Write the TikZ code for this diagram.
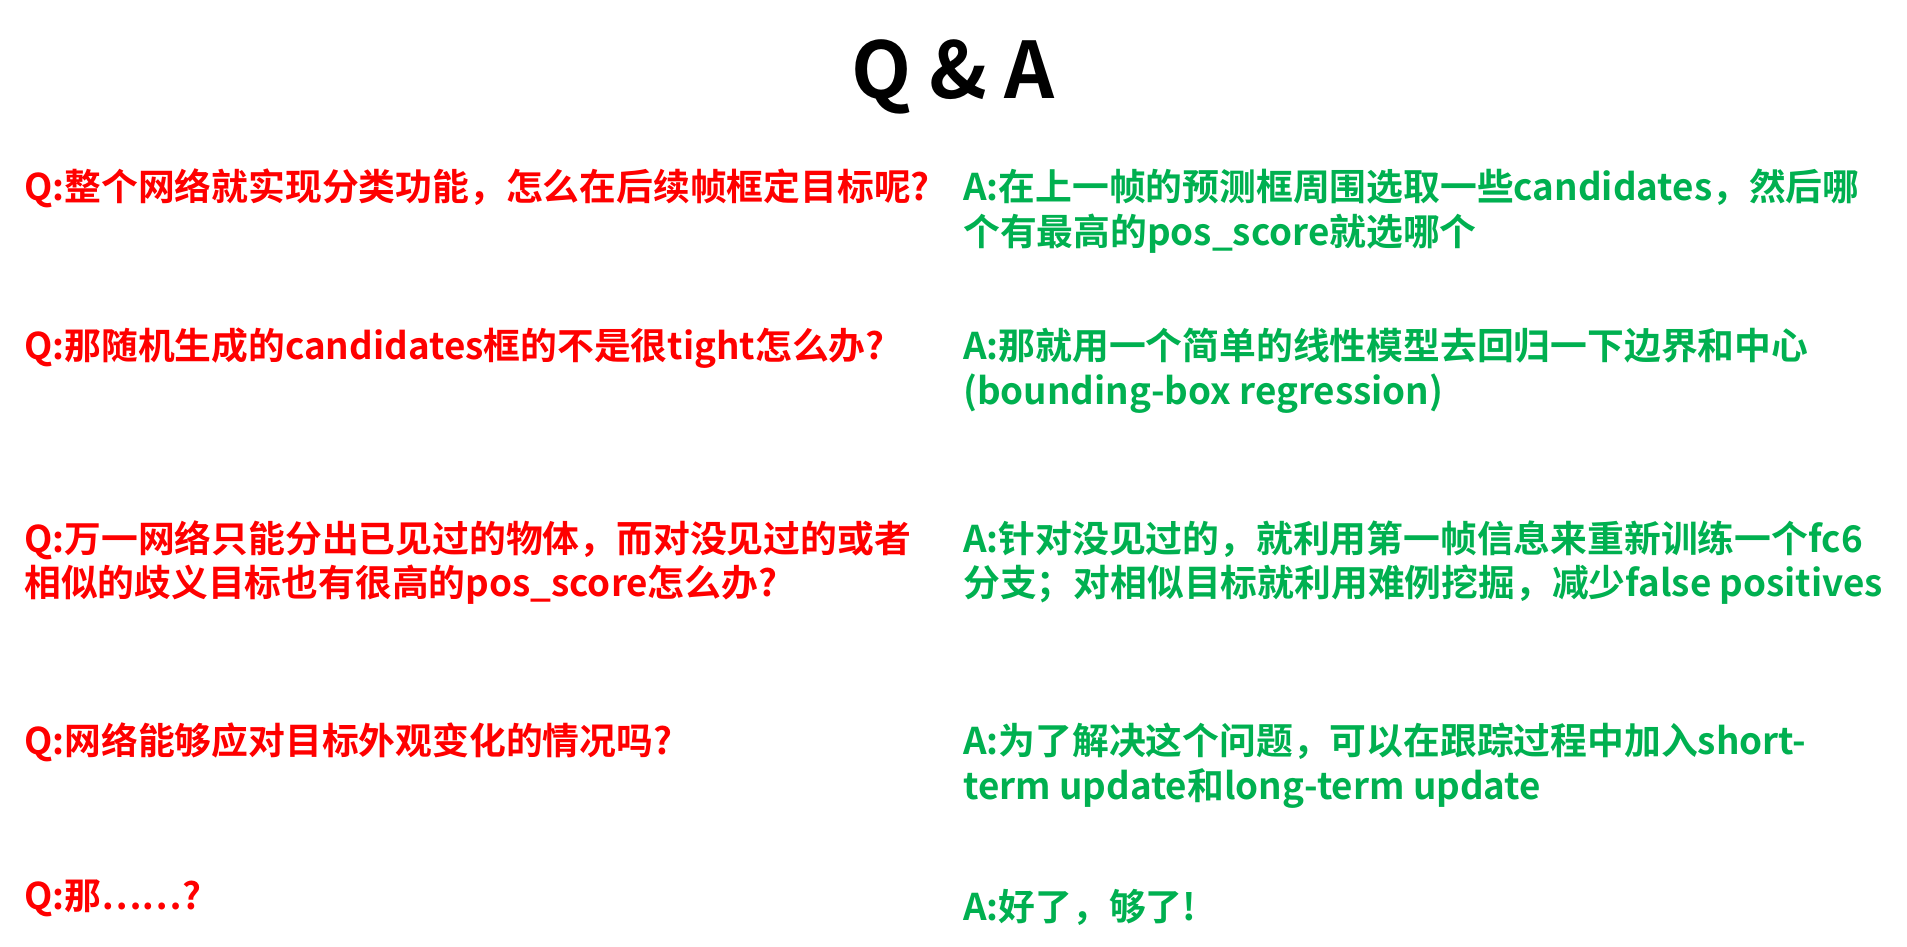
\documentclass[tikz,border=0pt]{standalone}
\usepackage{fontspec}
\setmainfont{Noto Sans CJK SC}[BoldFont={* Bold}]
\definecolor{qred}{HTML}{FF0000}
\definecolor{agreen}{HTML}{00B050}
\begin{document}
\begin{tikzpicture}[x=1pt,y=-1pt,
  qtext/.style={anchor=base west,inner sep=0,text=qred,font=\fontsize{36.8}{42}\selectfont\bfseries},
  atext/.style={anchor=base west,inner sep=0,text=agreen,font=\fontsize{36.8}{42}\selectfont\bfseries}]
\useasboundingbox (0,0) rectangle (1907,946);
\node[anchor=base,inner sep=0,font=\fontsize{78}{90}\selectfont\bfseries] (title) at (953,98) {Q \& A};
\node[qtext] (q1) at (24,200) {Q:整个网络就实现分类功能，怎么在后续帧框定目标呢?};
\node[qtext] (q2) at (24,359) {Q:那随机生成的candidates框的不是很tight怎么办?};
\node[qtext] (q3a) at (24,552) {Q:万一网络只能分出已见过的物体，而对没见过的或者};
\node[qtext] (q3b) at (24,596) {相似的歧义目标也有很高的pos\_score怎么办?};
\node[qtext] (q4) at (24,754) {Q:网络能够应对目标外观变化的情况吗?};
\node[qtext] (q5) at (24,909) {Q:那……?};
\node[atext] (a1a) at (963,200) {A:在上一帧的预测框周围选取一些candidates，然后哪};
\node[atext] (a1b) at (963,245) {个有最高的pos\_score就选哪个};
\node[atext] (a2a) at (963,359) {A:那就用一个简单的线性模型去回归一下边界和中心};
\node[atext] (a2b) at (963,404) {(bounding-box regression)};
\node[atext] (a3a) at (963,552) {A:针对没见过的，就利用第一帧信息来重新训练一个fc6};
\node[atext] (a3b) at (963,596) {分支；对相似目标就利用难例挖掘，减少false positives};
\node[atext] (a4a) at (963,754) {A:为了解决这个问题，可以在跟踪过程中加入short-};
\node[atext] (a4b) at (963,799) {term update和long-term update};
\node[atext] (a5) at (963,920) {A:好了，够了!};
\end{tikzpicture}
\end{document}
